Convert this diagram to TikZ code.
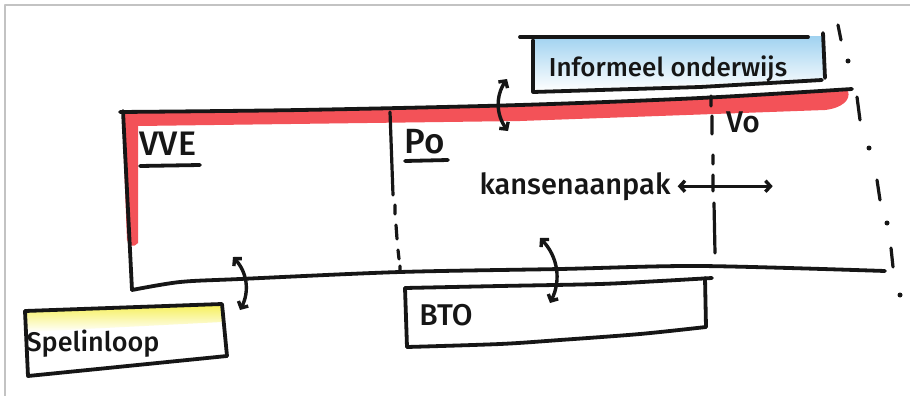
\documentclass[tikz,border=0pt]{standalone}
\usepackage{fontspec}
\setmainfont{Fira Sans}[UprightFont={* Medium}]
\usetikzlibrary{arrows.meta}
\definecolor{inkc}{RGB}{22,22,22}
\definecolor{redc}{RGB}{243,82,88}
\definecolor{bluec}{RGB}{160,210,240}
\definecolor{yelc}{RGB}{246,240,90}
\definecolor{framec}{RGB}{195,195,195}
\begin{document}
\begin{tikzpicture}[x=1pt,y=-1pt,line cap=round,line join=round,
  ink/.style={line width=3.8pt,draw=inkc},
  dink/.style={line width=3.2pt,draw=inkc},
  arr/.style={line width=3.4pt,draw=inkc,{Straight Barb[length=5pt,width=11pt]}-{Straight Barb[length=5pt,width=11pt]}},
  lbl/.style={inner sep=0pt,anchor=base,text=inkc}]
\useasboundingbox (0,0) rectangle (910,396);
\fill[white] (0,0) rectangle (910,396);
\draw[framec,line width=2pt] (5,396) -- (5,5) -- (910,5);

% fills
\shade[top color=bluec,bottom color=white] (534,39) -- (822,36) -- (824,79) -- (534,91) -- cycle;
\shade[top color=yelc,bottom color=white] (27,312) -- (222,305) -- (222,322) -- (27,332) -- cycle;
\fill[redc] (122,112) -- (520,105) -- (848,91) .. controls (851,100) and (842,108) .. (825,110)
  -- (520,121) -- (138,126) -- (138,243) .. controls (134,248) and (129,246) .. (127,240) -- cycle;

% main frame
\draw[ink] plot[smooth] coordinates {(120,112) (300,110) (520,105) (700,98) (852,89)};
\draw[ink] (123,111) -- (132,290);
\draw[ink] plot[smooth] coordinates {(132,290) (180,282) (240,279) (400,272) (560,269) (700,266) (885,271)};

% informeel box
\draw[ink] (520,37) -- (808,37);
\draw[ink] (533,40) -- (533,92) -- (700,87) -- (822,80);
\draw[ink] (823,33) -- (825,78);

% spelinloop box
\draw[ink] (25,311) -- (222,304) -- (227,356);
\draw[ink] (25,311) -- (28,376) -- (227,356);

% BTO box
\draw[ink] plot[smooth] coordinates {(405,288) (500,286) (600,284) (660,281) (712,278)};
\draw[ink] (705,278) -- (706,327);
\draw[ink] plot[smooth] coordinates {(407,347) (500,344) (560,340) (640,334) (706,327)};
\draw[ink] (405,288) -- (407,347);

% Po divider
\draw[dink] (390,112) -- (393,195);
\draw[dink] (395,205) -- (395,214) (396,225) -- (397,239) (398,250) -- (399,259) (400,266) -- (400,272);
% Vo divider
\draw[dink] (711,96) -- (711,106) (712,116) -- (712,134) (713,155) -- (713,164) (713,175) -- (713,191) (714,203) -- (715,253);
% right dash-dot
\draw[dink] (838,25) -- (841,40) (857,97) -- (860,120) (877,180) -- (880,200) (891,248) -- (893,267);
\fill[inkc] (848,61) circle (2.5pt) (869,148) circle (2.5pt) (887,223) circle (2.5pt) (900,295) circle (2.5pt);

% labels
\node[lbl,font=\fontsize{34}{34}\selectfont] (vve) at (168,155) {VVE};
\draw[ink] (140,166) -- (200,165);
\node[lbl,font=\fontsize{35}{35}\selectfont] (po) at (425,153) {Po};
\draw[ink] (405,161) -- (448,160);
\node[lbl,font=\fontsize{30}{30}\selectfont] (vo) at (743,132) {Vo};
\node[lbl,font=\fontsize{29}{29}\selectfont] (kans) at (575,194) {kansenaanpak};
\node[lbl,font=\fontsize{26}{26}\selectfont] (info) at (668,77) {Informeel onderwijs};
\node[lbl,font=\fontsize{27}{27}\selectfont] (spel) at (93,351) {Spelinloop};
\node[lbl,font=\fontsize{30}{30}\selectfont] (bto) at (446,325) {BTO};

% connectors
\coordinate (iA) at (507,79);
\coordinate (iB) at (508,131);
\draw[arr] (iA) to[bend right=35] (iB);
\coordinate (sA) at (233,257);
\coordinate (sB) at (240,310);
\draw[arr] (sA) to[bend left=35] (sB);
\coordinate (bA) at (540,238);
\coordinate (bB) at (550,303);
\draw[arr] (bA) to[bend left=35] (bB);
\coordinate (kL) at ([xshift=7pt]kans.east);
\coordinate (kR) at ([xshift=102pt]kans.east);
\draw[arr] (kL) -- (kR);
\end{tikzpicture}
\end{document}
